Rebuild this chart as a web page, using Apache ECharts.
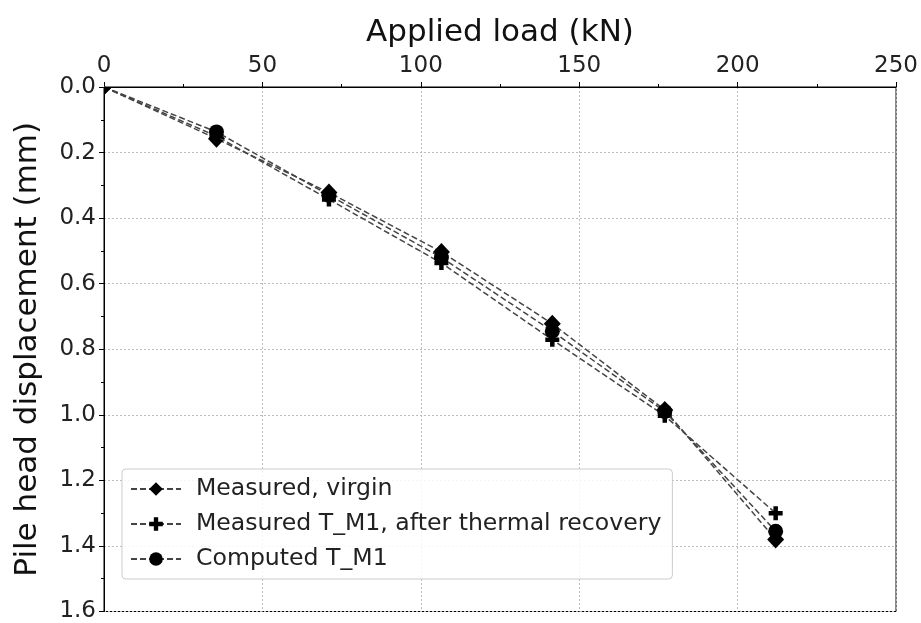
<!DOCTYPE html>
<html>
<head>
<meta charset="utf-8">
<script src="https://cdn.jsdelivr.net/npm/echarts@6/dist/echarts.min.js"></script>
<style>
html,body{margin:0;padding:0;background:#fff;}
#chart{width:921px;height:623px;}
</style>
</head>
<body>
<div id="chart"></div>
<script>
const loads = [0, 35.5, 71, 106.5, 141.5, 177, 212];
const virgin = [0, 0.158, 0.322, 0.503, 0.722, 0.985, 1.38];
const thermal = [0, 0.150, 0.343, 0.537, 0.771, 1.003, 1.30];
const computed = [0, 0.137, 0.330, 0.520, 0.745, 0.990, 1.355];
const seriesNames = ['Measured, virgin', 'Measured T_M1, after thermal recovery', 'Computed T_M1'];
const xTitle = 'Applied load (kN)';
const yTitle = 'Pile head displacement (mm)';

const FONT = 'DejaVu Sans';
const plusPath = 'path://M3.4,0H6.6V3.4H10V6.6H6.6V10H3.4V6.6H0V3.4H3.4Z';
const cornerPath = 'path://M0,0H10L0,10Z';
const lineStyle = {color: '#444', width: 1.5, type: [6, 3]};

// marker at the origin is clipped by the axes in the original: only the inner quadrant shows
function pairs(ys) {
  return loads.map((x, i) => (i === 0
    ? {value: [x, ys[i]], symbol: cornerPath, symbolSize: 8, symbolOffset: [4, 4]}
    : [x, ys[i]]));
}

function makeSeries(name, ys, shape, size, z) {
  return {
    name: name, type: 'line', data: pairs(ys),
    symbol: shape, symbolSize: size,
    itemStyle: {color: '#000'}, lineStyle: lineStyle, clip: true, z: z
  };
}

const s0 = makeSeries(seriesNames[0], virgin, 'diamond', [17, 18], 3);
const s1 = makeSeries(seriesNames[1], thermal, plusPath, 14, 4);
const s2 = makeSeries(seriesNames[2], computed, 'circle', 15, 5);

const chart = echarts.init(document.getElementById('chart'), null, {renderer: 'canvas'});
chart.setOption({
  animation: false,
  backgroundColor: '#fff',
  textStyle: {fontFamily: FONT},
  grid: {left: 104, right: 24, top: 87, bottom: 9, show: true, borderColor: '#000', borderWidth: 1, backgroundColor: 'transparent'},
  xAxis: {
    type: 'value', position: 'top', min: 0, max: 250, interval: 50,
    name: xTitle, nameLocation: 'middle', nameGap: 39,
    nameTextStyle: {fontFamily: FONT, fontSize: 31, color: '#111'},
    axisLine: {show: true, lineStyle: {color: '#000', width: 1}},
    axisTick: {show: true, inside: false, length: 5, lineStyle: {color: '#000'}},
    minorTick: {show: true, splitNumber: 2, length: 3, lineStyle: {color: '#000'}},
    axisLabel: {fontFamily: FONT, fontSize: 23, color: '#222', margin: 9},
    splitLine: {show: true, lineStyle: {color: '#bbb', type: [2, 2], width: 1}}
  },
  yAxis: {
    type: 'value', inverse: true, min: 0, max: 1.6, interval: 0.2,
    name: yTitle, nameLocation: 'middle', nameGap: 61, nameRotate: 90,
    nameTextStyle: {fontFamily: FONT, fontSize: 31, color: '#111'},
    axisLine: {show: true, lineStyle: {color: '#000', width: 1}},
    axisTick: {show: true, inside: false, length: 5, lineStyle: {color: '#000'}},
    minorTick: {show: true, splitNumber: 2, length: 3, lineStyle: {color: '#000'}},
    axisLabel: {fontFamily: FONT, fontSize: 23, color: '#222', margin: 8, formatter: v => v.toFixed(1)},
    splitLine: {show: true, lineStyle: {color: '#bbb', type: [2, 2], width: 1}}
  },
  legend: {
    orient: 'vertical', left: 122, top: 469,
    itemWidth: 50, itemHeight: 17, itemGap: 11,
    padding: [8, 11, 8, 8],
    backgroundColor: 'rgba(255,255,255,0.85)',
    borderColor: '#ccc', borderWidth: 1, borderRadius: 4,
    textStyle: {fontFamily: FONT, fontSize: 23.6, color: '#222', padding: [0, 0, 0, 10]},
    data: seriesNames
  },
  series: [s0, s1, s2]
});
</script>
</body>
</html>
